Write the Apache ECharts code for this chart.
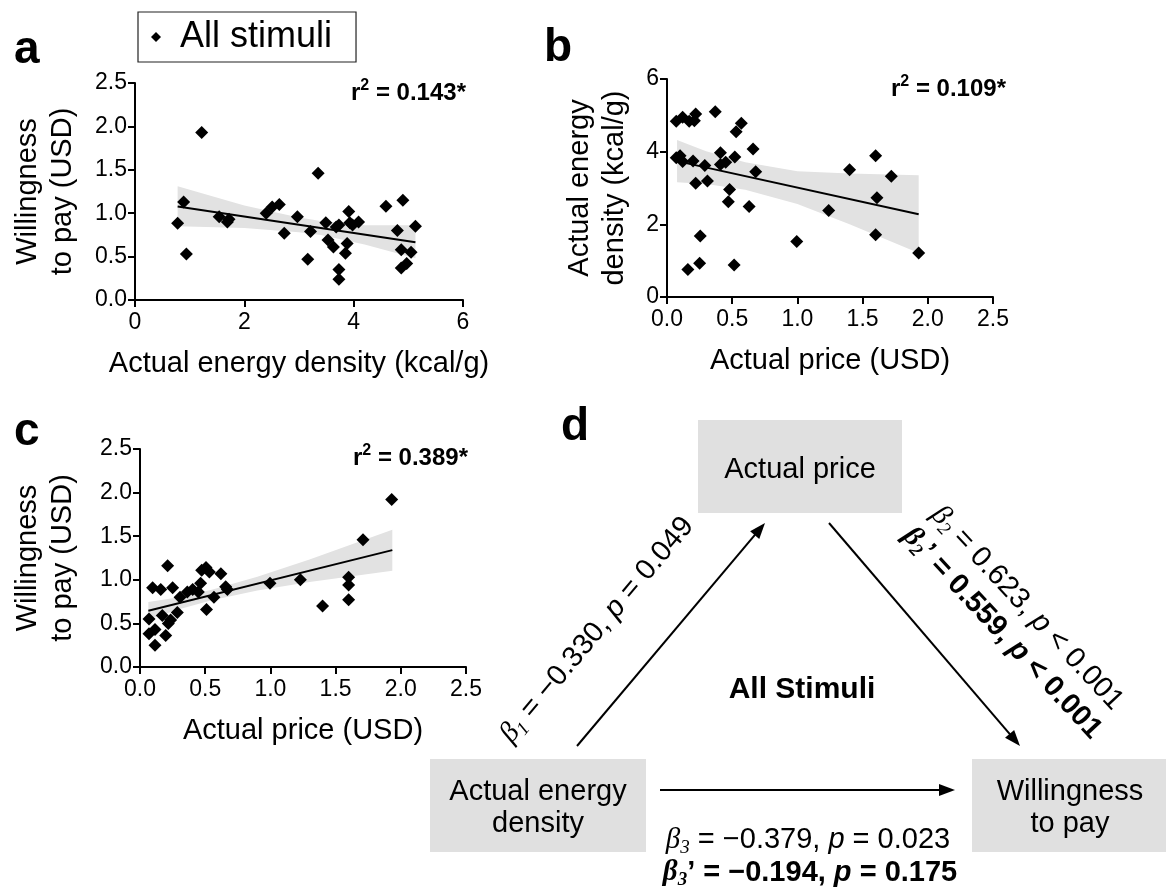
<!DOCTYPE html>
<html><head><meta charset="utf-8">
<script src="https://cdn.jsdelivr.net/npm/echarts@6/dist/echarts.min.js"></script>
<style>html,body{margin:0;padding:0;background:#fff}#c{width:1166px;height:888px}</style>
</head><body><div id="c"></div>
<script>
// ---------- Panel a: energy density vs willingness to pay ----------
const aEnergy = [0.78,0.89,0.94,1.22,1.54,1.69,1.72,2.40,2.51,2.64,2.73,2.97,3.16,3.21,3.35,3.49,3.53,3.63,3.68,3.73,3.73,3.73,3.85,3.88,3.91,3.93,3.98,4.09,4.59,4.80,4.87,4.87,4.90,4.97,5.05,5.13];
const aWtp    = [0.885,1.13,0.53,1.93,0.96,0.90,0.93,1.00,1.07,1.10,0.77,0.96,0.47,0.79,1.46,0.89,0.69,0.61,0.84,0.865,0.35,0.24,0.54,0.65,1.02,0.89,0.865,0.90,1.08,0.80,0.58,0.37,1.15,0.42,0.55,0.85];
const aFitX = [0.78, 5.13];
const aFitY = [1.076, 0.665];
const aBandX     = [0.78, 2.0, 3.0, 3.4, 4.2, 5.13];
const aBandUpper = [1.31, 1.09, 0.95, 0.91, 0.86, 0.86];
const aBandLower = [0.85, 0.83, 0.78, 0.75, 0.64, 0.48];

// ---------- Panel b: price vs energy density ----------
const bPrice  = [0.071,0.12,0.17,0.21,0.22,0.071,0.10,0.12,0.20,0.22,0.255,0.25,0.16,0.29,0.31,0.37,0.41,0.41,0.45,0.48,0.47,0.52,0.53,0.57,0.515,0.63,0.66,0.68,0.995,1.24,1.40,1.60,1.61,1.60,1.72,1.93];
const bEnergy = [4.84,4.95,4.84,4.85,5.04,3.83,3.89,3.73,3.74,3.13,1.68,0.93,0.76,3.62,3.19,5.10,3.97,3.65,3.71,2.96,2.62,3.85,4.55,4.78,0.88,2.49,4.07,3.45,1.53,2.38,3.50,3.89,2.73,1.71,3.32,1.21];
const bFitX = [0.077, 1.93];
const bFitY = [3.74, 2.28];
const bBandX     = [0.077, 0.3, 0.6, 1.0, 1.4, 1.93];
const bBandUpper = [4.32, 4.01, 3.71, 3.46, 3.40, 3.35];
const bBandLower = [3.16, 3.11, 2.95, 2.56, 2.00, 1.21];

// ---------- Panel c: price vs willingness to pay ----------
const cPrice = [0.069,0.069,0.115,0.115,0.097,0.159,0.171,0.197,0.212,0.217,0.235,0.25,0.286,0.307,0.363,0.404,0.447,0.465,0.473,0.506,0.532,0.51,0.567,0.62,0.657,0.67,0.997,1.23,1.40,1.60,1.60,1.60,1.71,1.93];
const cWtp   = [0.55,0.38,0.43,0.25,0.91,0.89,0.59,0.36,1.16,0.50,0.54,0.91,0.625,0.80,0.86,0.89,0.86,0.96,1.11,1.14,1.09,0.66,0.80,1.07,0.92,0.89,0.96,1.00,0.70,1.03,0.94,0.77,1.46,1.92];
const cFitX = [0.064, 1.935];
const cFitY = [0.645, 1.34];
const cBandX     = [0.064, 0.3, 0.55, 0.9, 1.3, 1.935];
const cBandUpper = [0.745, 0.80, 0.886, 1.036, 1.234, 1.575];
const cBandLower = [0.545, 0.663, 0.766, 0.876, 0.974, 1.105];

// ---------- texts ----------
const r2Values = ['0.143', '0.109', '0.389'];
const legendName = 'All stimuli';
const nodeLabels = ['Actual price', 'Actual energy\ndensity', 'Willingness\nto pay'];

const FONT = '"Liberation Sans", Arial, Helvetica, sans-serif';
const SERIF = '"Liberation Serif", "DejaVu Serif", serif';
const zip = (xs, ys) => xs.map((x, i) => [x, ys[i]]);

function bandSeries(gi, xs, up, lo) {
  return {
    type: 'custom', xAxisIndex: gi, yAxisIndex: gi, z: 1, silent: true,
    data: xs.map((x, i) => [x, up[i]]),
    renderItem: function (params, api) {
      if (params.dataIndex !== 0) return null;
      const pts = [];
      for (let i = 0; i < xs.length; i++) pts.push(api.coord([xs[i], up[i]]));
      for (let i = xs.length - 1; i >= 0; i--) pts.push(api.coord([xs[i], lo[i]]));
      return { type: 'polygon', shape: { points: pts }, style: { fill: '#e2e2e2' } };
    }
  };
}
function fitSeries(gi, xs, ys) {
  return { type: 'line', xAxisIndex: gi, yAxisIndex: gi, z: 3, data: zip(xs, ys),
    showSymbol: false, silent: true, lineStyle: { color: '#000', width: 2 } };
}
function scatterSeries(gi, name, xs, ys) {
  return { type: 'scatter', name: name, xAxisIndex: gi, yAxisIndex: gi, z: 4, data: zip(xs, ys),
    symbol: 'diamond', symbolSize: 13, itemStyle: { color: '#000', opacity: 1 } };
}
const axisCommon = {
  axisLine: { show: true, onZero: false, lineStyle: { color: '#000', width: 2 } },
  axisTick: { show: true, inside: false, length: 7, lineStyle: { color: '#000', width: 2 } },
  splitLine: { show: false },
  nameTextStyle: { fontFamily: FONT, fontSize: 29, color: '#000', lineHeight: 35 },
  nameLocation: 'middle'
};
function xAx(gi, min, max, interval, dec, name) {
  return Object.assign({}, axisCommon, {
    type: 'value', gridIndex: gi, min: min, max: max, interval: interval,
    name: name, nameGap: 46,
    axisLabel: { fontFamily: FONT, fontSize: 23, color: '#000', margin: 11,
      formatter: v => v.toFixed(dec) }
  });
}
function yAx(gi, min, max, interval, dec, name, gap) {
  return Object.assign({}, axisCommon, {
    type: 'value', gridIndex: gi, min: min, max: max, interval: interval,
    name: name, nameGap: gap, nameRotate: 90,
    axisLabel: { fontFamily: FONT, fontSize: 23, color: '#000', margin: 8,
      formatter: v => v.toFixed(dec) }
  });
}

const rich = {
  n: { fontFamily: FONT, fontSize: 29, lineHeight: 34, color: '#000' },
  i: { fontFamily: SERIF, fontStyle: 'italic', fontSize: 29, lineHeight: 34, color: '#000' },
  ip: { fontFamily: FONT, fontStyle: 'italic', fontSize: 29, lineHeight: 34, color: '#000' },
  sub: { fontFamily: SERIF, fontStyle: 'italic', fontSize: 19, lineHeight: 19, verticalAlign: 'bottom', color: '#000' },
  b: { fontFamily: FONT, fontWeight: 'bold', fontSize: 29, lineHeight: 34, color: '#000' },
  bi: { fontFamily: SERIF, fontWeight: 'bold', fontStyle: 'italic', fontSize: 29, lineHeight: 34, color: '#000' },
  bip: { fontFamily: FONT, fontWeight: 'bold', fontStyle: 'italic', fontSize: 29, lineHeight: 34, color: '#000' },
  bsub: { fontFamily: SERIF, fontWeight: 'bold', fontStyle: 'italic', fontSize: 19, lineHeight: 19, verticalAlign: 'bottom', color: '#000' },
  rb: { fontFamily: FONT, fontWeight: 'bold', fontSize: 24, lineHeight: 30, color: '#000' },
  sup: { fontFamily: FONT, fontWeight: 'bold', fontSize: 16, lineHeight: 16, verticalAlign: 'top', color: '#000' }
};
const beta1 = '{i|β}{sub|1}{n| = −0.330, }{ip|p}{n| = 0.049}';
const beta2 = '{i|β}{sub|2}{n| = 0.623, }{ip|p}{n| < 0.001}';
const beta2b = '{bi|β}{bsub|2}{b|’ = 0.559, }{bip|p}{b| < 0.001}';
const beta3 = '{i|β}{sub|3}{n| = −0.379, }{ip|p}{n| = 0.023}';
const beta3b = '{bi|β}{bsub|3}{b|’ = −0.194, }{bip|p}{b| = 0.175}';
const r2Text = v => '{rb|r}{sup|2}{rb| = ' + v + '*}';

function txt(x, y, text, opts) {
  return { type: 'text', x: x, y: y, style: Object.assign({ text: text, fill: '#000',
    font: '29px ' + FONT, align: 'center', verticalAlign: 'middle' }, opts && opts.style || {}) };
}
function richTxt(x, y, text, rot, align) {
  const o = { type: 'text', x: x, y: y, style: { text: text, rich: rich, align: align || 'center', verticalAlign: 'middle', fill: '#000' } };
  if (rot) o.rotation = rot;
  return o;
}
function arrow(x1, y1, x2, y2) {
  const dx = x2 - x1, dy = y2 - y1, L = Math.sqrt(dx * dx + dy * dy);
  const ux = dx / L, uy = dy / L, hl = 16, hw = 6;
  const bx = x2 - ux * hl, by = y2 - uy * hl;
  return [
    { type: 'line', shape: { x1: x1, y1: y1, x2: bx + ux * 2, y2: by + uy * 2 }, style: { stroke: '#000', lineWidth: 2 } },
    { type: 'polygon', shape: { points: [[x2, y2], [bx - uy * hw, by + ux * hw], [bx + uy * hw, by - ux * hw]] }, style: { fill: '#000' } }
  ];
}
const deg = Math.PI / 180;

const graphics = [
  txt(14, 50, 'a', { style: { font: 'bold 46px ' + FONT, align: 'left' } }),
  txt(544, 48, 'b', { style: { font: 'bold 46px ' + FONT, align: 'left' } }),
  txt(14, 432, 'c', { style: { font: 'bold 46px ' + FONT, align: 'left' } }),
  txt(561, 427, 'd', { style: { font: 'bold 46px ' + FONT, align: 'left' } }),
  richTxt(466, 93, r2Text(r2Values[0]), 0, 'right'),
  richTxt(1006, 89, r2Text(r2Values[1]), 0, 'right'),
  richTxt(468, 458, r2Text(r2Values[2]), 0, 'right'),
  // diagram boxes
  { type: 'rect', shape: { x: 698, y: 420, width: 204, height: 93 }, style: { fill: '#e0e0e0' } },
  { type: 'rect', shape: { x: 430, y: 759, width: 216, height: 93 }, style: { fill: '#e0e0e0' } },
  { type: 'rect', shape: { x: 972, y: 759, width: 194, height: 93 }, style: { fill: '#e0e0e0' } },
  txt(800, 470, nodeLabels[0]),
  txt(538, 808, nodeLabels[1], { style: { lineHeight: 32 } }),
  txt(1070, 808, nodeLabels[2], { style: { lineHeight: 32 } }),
  txt(802, 690, 'All Stimuli', { style: { font: 'bold 30px ' + FONT } }),
  ...arrow(577, 746, 765, 523),
  ...arrow(829, 523, 1020, 746),
  ...arrow(660, 790, 955, 790),
  richTxt(597, 630, beta1, 50 * deg),
  richTxt(1027, 608, beta2, -47 * deg),
  richTxt(1002, 633, beta2b, -47 * deg),
  richTxt(808, 840, beta3),
  richTxt(810, 873, beta3b)
];

const chart = echarts.init(document.getElementById('c'), null, { renderer: 'canvas' });
chart.setOption({
  backgroundColor: '#fff',
  animation: false,
  textStyle: { fontFamily: FONT },
  legend: {
    data: [legendName], left: 138, top: 12, icon: 'diamond', itemWidth: 10, itemHeight: 10,
    borderColor: '#222', borderWidth: 1.2, padding: [7, 24, 7, 13],
    textStyle: { fontFamily: FONT, fontSize: 36, color: '#000', padding: [0, 0, 0, 14] },
    selectedMode: false
  },
  grid: [
    { left: 135, top: 83, width: 328, height: 217 },
    { left: 667, top: 79, width: 326, height: 218 },
    { left: 140, top: 449, width: 326, height: 218 }
  ],
  xAxis: [
    xAx(0, 0, 6, 2, 0, 'Actual energy density (kcal/g)'),
    xAx(1, 0, 2.5, 0.5, 1, 'Actual price (USD)'),
    xAx(2, 0, 2.5, 0.5, 1, 'Actual price (USD)')
  ],
  yAxis: [
    yAx(0, 0, 2.5, 0.5, 1, 'Willingness\nto pay (USD)', 55),
    yAx(1, 0, 6, 2, 0, 'Actual energy\ndensity (kcal/g)', 35),
    yAx(2, 0, 2.5, 0.5, 1, 'Willingness\nto pay (USD)', 60)
  ],
  series: [
    bandSeries(0, aBandX, aBandUpper, aBandLower),
    fitSeries(0, aFitX, aFitY),
    scatterSeries(0, legendName, aEnergy, aWtp),
    bandSeries(1, bBandX, bBandUpper, bBandLower),
    fitSeries(1, bFitX, bFitY),
    scatterSeries(1, 'b', bPrice, bEnergy),
    bandSeries(2, cBandX, cBandUpper, cBandLower),
    fitSeries(2, cFitX, cFitY),
    scatterSeries(2, 'c', cPrice, cWtp)
  ],
  graphic: { elements: graphics }
});
</script></body></html>
